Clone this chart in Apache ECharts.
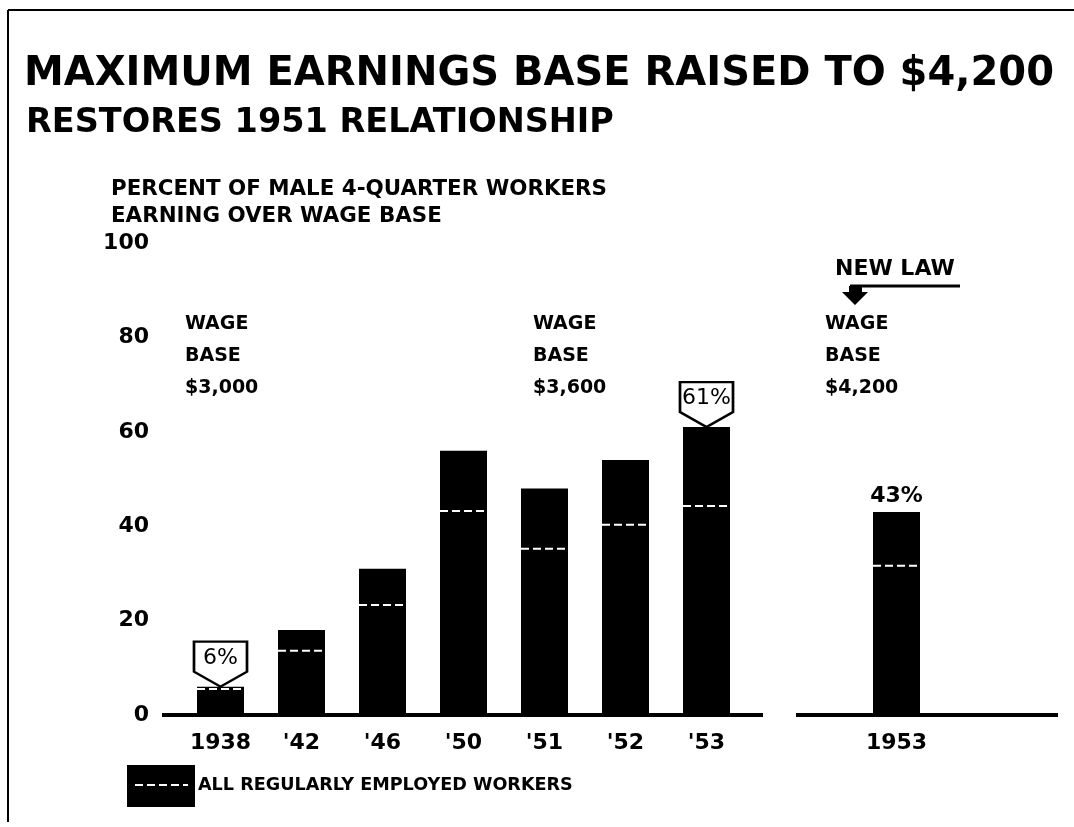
<!DOCTYPE html>
<html>
<head>
<meta charset="utf-8">
<script src="https://cdn.jsdelivr.net/npm/echarts@6/dist/echarts.min.js"></script>
<style>
  html, body { margin: 0; padding: 0; background: #fff; }
  #chart { width: 1074px; height: 827px; }
</style>
</head>
<body>
<div id="chart"></div>
<script>
// old law years (wage base $3,000 / $3,600)
var categories = ['1938', "'42", "'46", "'50", "'51", "'52", "'53"];
var maleOver = [6, 18, 31, 56, 48, 54, 61];          // male 4-quarter workers over base
var allWorkers = [5.5, 13.6, 23.3, 43.2, 35.2, 40.3, 44.3]; // all regularly employed (dashed)
// new law, wage base $4,200
var newCategories = ['1953'];
var newMaleOver = [43];
var newAllWorkers = [31.6];
// callout labels
var calloutIdx = [0, 6];

var FONT = 'DejaVu Sans';
var chart = echarts.init(document.getElementById('chart'));

// white dashed line across a bar
function dashRender(params, api) {
  var p = api.coord([api.value(0), api.value(1)]);
  var w = 47;
  return {
    type: 'line',
    shape: { x1: p[0] - w / 2, y1: p[1], x2: p[0] + w / 2, y2: p[1] },
    style: { stroke: '#fff', lineWidth: 2, lineDash: [8, 4] }
  };
}

var callouts = calloutIdx.map(function (i) {
  return { coord: [i, maleOver[i]], value: maleOver[i] + '%' };
});

var yAxisBase = {
  type: 'value', min: 0, max: 100, interval: 20,
  axisLine: { show: false }, axisTick: { show: false }, splitLine: { show: false }
};

var noteFont = 'bold 19px "DejaVu Sans"';

var option = {
  backgroundColor: '#fff',
  animation: false,
  textStyle: { fontFamily: FONT, color: '#000' },
  title: [
    { text: 'MAXIMUM EARNINGS BASE RAISED TO $4,200', left: 19, top: 50,
      textStyle: { fontFamily: FONT, fontSize: 40, fontWeight: 'bold', color: '#000' } },
    { text: 'RESTORES 1951 RELATIONSHIP', left: 21, top: 101,
      textStyle: { fontFamily: FONT, fontSize: 33.5, fontWeight: 'bold', color: '#000' } },
    { text: 'PERCENT OF MALE 4-QUARTER WORKERS\nEARNING OVER WAGE BASE', left: 106, top: 171,
      textStyle: { fontFamily: FONT, fontSize: 21.4, fontWeight: 'bold', color: '#000', lineHeight: 27 } }
  ],
  grid: [
    { left: 180, width: 567, top: 243, height: 472 },
    { left: 856, width: 81, top: 243, height: 472 }
  ],
  xAxis: [
    { type: 'category', gridIndex: 0, data: categories,
      axisLine: { show: false }, axisTick: { show: false },
      axisLabel: { fontFamily: FONT, fontSize: 22, fontWeight: 'bold', color: '#000', margin: 17 } },
    { type: 'category', gridIndex: 1, data: newCategories,
      axisLine: { show: false }, axisTick: { show: false },
      axisLabel: { fontFamily: FONT, fontSize: 22, fontWeight: 'bold', color: '#000', margin: 17 } }
  ],
  yAxis: [
    Object.assign({ gridIndex: 0,
      axisLabel: { fontFamily: FONT, fontSize: 22, fontWeight: 'bold', color: '#000', margin: 31 } }, yAxisBase),
    Object.assign({ gridIndex: 1, axisLabel: { show: false } }, yAxisBase)
  ],
  series: [
    {
      type: 'bar', xAxisIndex: 0, yAxisIndex: 0, data: maleOver, barWidth: 47,
      itemStyle: { color: '#000' },
      markPoint: {
        symbol: 'path://M0,0 L54,0 L54,30 L27,45 L0,30 Z',
        symbolSize: [53, 45],
        symbolOffset: [0, '-50%'],
        itemStyle: { color: '#fff', borderColor: '#000', borderWidth: 2.5 },
        label: { show: true, formatter: '{c}', offset: [0, -6], color: '#000',
          fontFamily: FONT, fontSize: 22, fontWeight: 'normal' },
        data: callouts
      }
    },
    {
      type: 'custom', xAxisIndex: 0, yAxisIndex: 0, renderItem: dashRender,
      data: allWorkers.map(function (v, i) { return [i, v]; }), z: 5
    },
    {
      type: 'bar', xAxisIndex: 1, yAxisIndex: 1, data: newMaleOver, barWidth: 47,
      itemStyle: { color: '#000' },
      label: { show: true, position: 'top', distance: 5, formatter: '{c}%', color: '#000',
        fontFamily: FONT, fontSize: 22, fontWeight: 'bold' }
    },
    {
      type: 'custom', xAxisIndex: 1, yAxisIndex: 1, renderItem: dashRender,
      data: newAllWorkers.map(function (v, i) { return [i, v]; }), z: 5
    }
  ],
  graphic: [
    // frame
    { type: 'line', shape: { x1: 8, y1: 10, x2: 1074, y2: 10 }, style: { stroke: '#000', lineWidth: 2 } },
    { type: 'line', shape: { x1: 8, y1: 10, x2: 8, y2: 822 }, style: { stroke: '#000', lineWidth: 2 } },
    // baselines
    { type: 'line', shape: { x1: 162, y1: 715, x2: 763, y2: 715 }, style: { stroke: '#000', lineWidth: 4 } },
    { type: 'line', shape: { x1: 796, y1: 715, x2: 1058, y2: 715 }, style: { stroke: '#000', lineWidth: 4 } },
    // wage base notes
    { type: 'text', left: 185, top: 308, style: { text: 'WAGE\nBASE\n$3,000', fill: '#000',
      font: noteFont, lineHeight: 32 } },
    { type: 'text', left: 533, top: 308, style: { text: 'WAGE\nBASE\n$3,600', fill: '#000',
      font: noteFont, lineHeight: 32 } },
    { type: 'text', left: 825, top: 308, style: { text: 'WAGE\nBASE\n$4,200', fill: '#000',
      font: noteFont, lineHeight: 32 } },
    { type: 'text', left: 835, top: 258, style: { text: 'NEW LAW', fill: '#000',
      font: 'bold 22px "DejaVu Sans"' } },
    // arrow
    { type: 'line', shape: { x1: 850, y1: 286, x2: 960, y2: 286 }, style: { stroke: '#000', lineWidth: 3 } },
    { type: 'polygon', shape: { points: [[849, 286], [862, 286], [862, 292], [868, 292], [855, 305], [842, 292], [849, 292]] },
      style: { fill: '#000' } },
    // legend
    { type: 'rect', shape: { x: 127, y: 765, width: 68, height: 42 }, style: { fill: '#000' } },
    { type: 'line', shape: { x1: 135, y1: 785, x2: 188, y2: 785 }, style: { stroke: '#fff', lineWidth: 2, lineDash: [8, 4] } },
    { type: 'text', left: 198, top: 776, style: { text: 'ALL REGULARLY EMPLOYED WORKERS', fill: '#000',
      font: 'bold 17.6px "DejaVu Sans"' } }
  ]
};

chart.setOption(option);
</script>
</body>
</html>
